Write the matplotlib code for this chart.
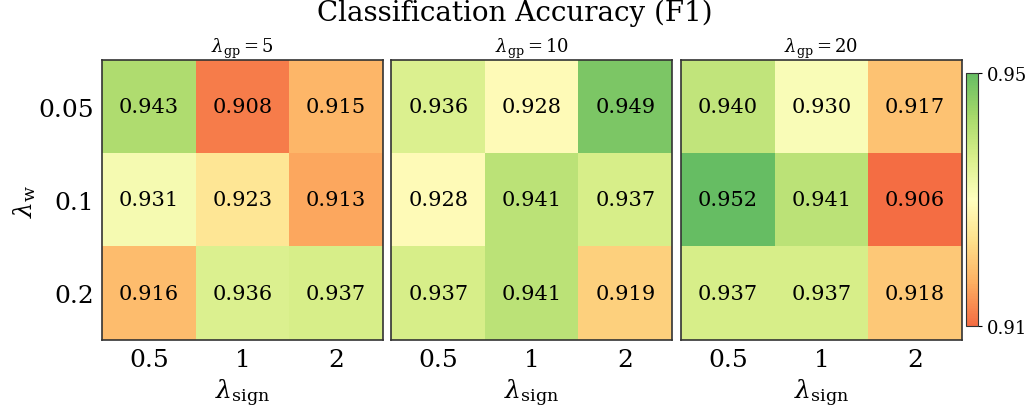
import numpy as np
import matplotlib
matplotlib.use("Agg")
import matplotlib.pyplot as plt
from matplotlib.colors import LinearSegmentedColormap

plt.rcParams['font.family'] = 'DejaVu Serif'
plt.rcParams['mathtext.fontset'] = 'dejavuserif'

# hyperparameter grid
lambda_gp = [5, 10, 20]
lambda_w = ['0.05', '0.1', '0.2']
lambda_sign = ['0.5', '1', '2']

f1_gp5 = [[0.943, 0.908, 0.915],
          [0.931, 0.923, 0.913],
          [0.916, 0.936, 0.937]]
f1_gp10 = [[0.936, 0.928, 0.949],
           [0.928, 0.941, 0.937],
           [0.937, 0.941, 0.919]]
f1_gp20 = [[0.940, 0.930, 0.917],
           [0.952, 0.941, 0.906],
           [0.937, 0.937, 0.918]]
panels = [f1_gp5, f1_gp10, f1_gp20]

# shared colour range = min/max over all panels
VMIN = np.min(panels)
VMAX = np.max(panels)

# middle part of RdYlGn
base = plt.get_cmap('RdYlGn')
cmap = LinearSegmentedColormap.from_list('rdylgn_mid', base(np.linspace(0.2, 0.8, 256)))

fig = plt.figure(figsize=(10.3, 4.1), dpi=100)

left0 = 102 / 1030
w = 281 / 1030
gap = 8.5 / 1030
bottom = 69 / 410
h = 280 / 410

for k, (gp, vals) in enumerate(zip(lambda_gp, panels)):
    ax = fig.add_axes([left0 + k * (w + gap), bottom, w, h])
    arr = np.array(vals)
    im = ax.imshow(arr, cmap=cmap, vmin=VMIN, vmax=VMAX, aspect='auto')
    for i in range(arr.shape[0]):
        for j in range(arr.shape[1]):
            ax.text(j, i, f"{arr[i, j]:.3f}", ha='center', va='center', fontsize=15, color='black')
    ax.set_xticks(range(len(lambda_sign)))
    ax.set_xticklabels(lambda_sign, fontsize=18)
    ax.tick_params(length=0, pad=6)
    if k == 0:
        ax.set_yticks(range(len(lambda_w)))
        ax.set_yticklabels(lambda_w, fontsize=18)
        ax.set_ylabel(r'$\lambda_{\mathrm{w}}$', fontsize=18, labelpad=0)
    else:
        ax.set_yticks([])
    ax.set_xlabel(r'$\lambda_{\mathrm{sign}}$', fontsize=18, labelpad=4)
    ax.set_title(r'$\lambda_{\mathrm{gp}} = %d$' % gp, fontsize=13, pad=6)
    for s in ax.spines.values():
        s.set_edgecolor('#333333')
        s.set_linewidth(1.2)

cax = fig.add_axes([966 / 1030, 83 / 410, 12 / 1030, 253 / 410])
cb = fig.colorbar(im, cax=cax, ticks=[VMIN, VMAX], format='%.2f')
cb.ax.tick_params(labelsize=13, length=3)
cb.outline.set_edgecolor('#333333')

fig.suptitle('Classification Accuracy (F1)', fontsize=20, y=1.0)

fig.savefig('out.png', dpi=100)
